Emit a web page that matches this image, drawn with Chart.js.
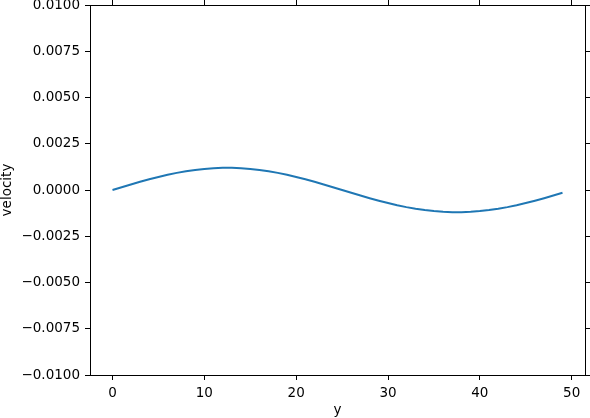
<!DOCTYPE html>
<html>
<head>
<meta charset="utf-8">
<script src="https://cdn.jsdelivr.net/npm/chart.js@4/dist/chart.umd.min.js"></script>
<style>
html,body{margin:0;padding:0;background:#fff;}
canvas{display:block;}
</style>
</head>
<body>
<canvas id="c" width="590" height="418"></canvas>
<script>
const yPositions = [0,1,2,3,4,5,6,7,8,9,10,11,12,13,14,15,16,17,18,19,20,21,22,23,24,25,26,27,28,29,30,31,32,33,34,35,36,37,38,39,40,41,42,43,44,45,46,47,48,49];
const velocity = [0, 0.000150, 0.000298, 0.000442, 0.000578, 0.000705, 0.000821, 0.000925, 0.001013, 0.001086,
  0.001141, 0.001179, 0.001198, 0.001198, 0.001179, 0.001141, 0.001086, 0.001013, 0.000925, 0.000821,
  0.000705, 0.000578, 0.000442, 0.000298, 0.000150, 0, -0.000150, -0.000298, -0.000442, -0.000578,
  -0.000705, -0.000821, -0.000925, -0.001013, -0.001086, -0.001141, -0.001179, -0.001198, -0.001198, -0.001179,
  -0.001141, -0.001086, -0.001013, -0.000925, -0.000821, -0.000705, -0.000578, -0.000442, -0.000298, -0.000150];
const xTicks = [0, 10, 20, 30, 40, 50];
const yTicks = [-0.01, -0.0075, -0.005, -0.0025, 0, 0.0025, 0.005, 0.0075, 0.01];
const xLabel = 'y';
const yLabel = 'velocity';

const FONT = 'DejaVu Sans';
const FS = 13.5;
const xMin = -2.45, xMax = 51.45;

const points = yPositions.map((x, i) => ({x: x, y: velocity[i]}));
const fmtY = v => { const s = Math.abs(v).toFixed(4); return (v < -1e-12 ? '\u2212' : '') + s; };

function gridOpts(){
  return {display: true, drawOnChartArea: false, drawTicks: true, tickLength: 5, color: '#000', tickColor: '#000', lineWidth: 1};
}
function borderOpts(){ return {display: true, color: '#000', width: 1}; }
function noPad(s){ s.paddingTop = 0; s.paddingBottom = 0; s.paddingLeft = 0; s.paddingRight = 0; }

new Chart(document.getElementById('c'), {
  type: 'line',
  data: {
    datasets: [{
      data: points,
      borderColor: '#1f77b4',
      borderWidth: 2,
      pointRadius: 0,
      fill: false,
      tension: 0,
      xAxisID: 'x',
      yAxisID: 'y'
    }]
  },
  options: {
    responsive: false,
    animation: false,
    devicePixelRatio: 1,
    layout: {padding: 0},
    plugins: {legend: {display: false}, tooltip: {enabled: false}},
    scales: {
      x: {
        type: 'linear', position: 'bottom', min: xMin, max: xMax,
        afterBuildTicks: s => { s.ticks = xTicks.map(v => ({value: v})); },
        afterFit: s => { s.height = 43; noPad(s); },
        ticks: {color: '#000', font: {family: FONT, size: FS}, padding: 5, maxRotation: 0, callback: v => String(v)},
        grid: gridOpts(), border: borderOpts(),
        title: {display: true, text: xLabel, color: '#000', font: {family: FONT, size: FS, lineHeight: 1.1}, padding: 0}
      },
      x2: {
        type: 'linear', position: 'top', min: xMin, max: xMax,
        afterBuildTicks: s => { s.ticks = xTicks.map(v => ({value: v})); },
        afterFit: s => { s.height = 5; noPad(s); },
        ticks: {display: false},
        grid: gridOpts(), border: borderOpts()
      },
      y: {
        type: 'linear', position: 'left', min: -0.01, max: 0.01,
        afterBuildTicks: s => { s.ticks = yTicks.map(v => ({value: v})); },
        afterFit: s => { s.width = 90; noPad(s); },
        ticks: {color: '#000', font: {family: FONT, size: FS}, padding: 5, callback: v => fmtY(v)},
        grid: gridOpts(), border: borderOpts(),
        title: {display: true, text: yLabel, color: '#000', font: {family: FONT, size: FS, lineHeight: 1.1}, padding: 0}
      },
      y2: {
        type: 'linear', position: 'right', min: -0.01, max: 0.01,
        afterBuildTicks: s => { s.ticks = yTicks.map(v => ({value: v})); },
        afterFit: s => { s.width = 5; noPad(s); },
        ticks: {display: false},
        grid: gridOpts(), border: borderOpts()
      }
    }
  }
});
</script>
</body>
</html>
